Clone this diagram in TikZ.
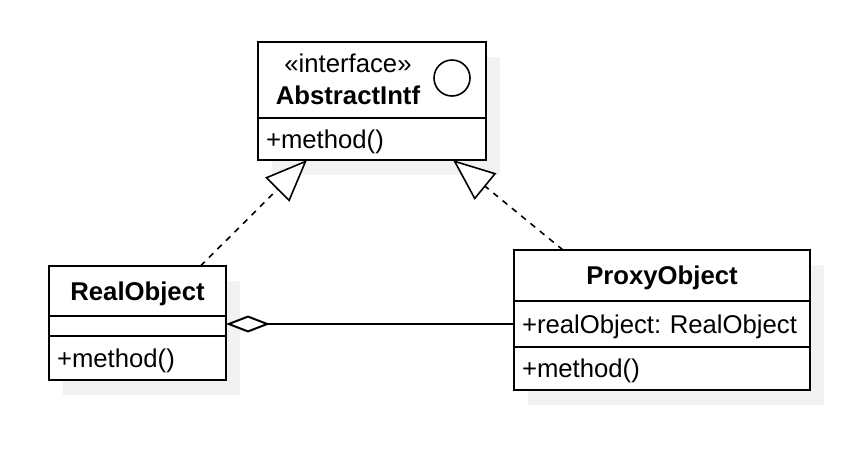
\documentclass[tikz,border=0pt]{standalone}
\usepackage{fontspec}
\setmainfont{Liberation Sans}
\usetikzlibrary{arrows.meta,shadows}

\begin{document}
\frenchspacing
\begin{tikzpicture}[x=1pt, y=-1pt, line width=2pt, font=\fontsize{25.7pt}{32pt}\selectfont,
  umlbox/.style={draw, fill=white, inner sep=0pt, outer sep=0pt, anchor=north west, text depth=0pt,
    general shadow={fill=black!5, draw=none, shadow xshift=14pt, shadow yshift=-15pt}},
  member/.style={umlbox, align=left, inner xsep=8pt, text width=#1},
  realize/.style={dash pattern=on 6pt off 6pt, line width=1.6pt, -{Triangle[open, fill=white, length=42pt, width=34pt]}},
  aggregate/.style={-{Diamond[open, fill=white, length=44pt, width=17pt]}}]
  \useasboundingbox (0,0) rectangle (860,448);
  % interface
  \node[umlbox, minimum width=228pt, minimum height=76pt] (abs) at (258,42) {};
  \node[align=center, inner sep=0pt] (absname) at (348,79) {«interface»\\\textbf{AbstractIntf}};
  \node[draw, circle, minimum size=36pt, inner sep=0pt, line width=1.6pt] (absicon) at (452,78) {};
  \node[member=212pt, minimum height=42pt] (absops) at (abs.south west) {+method()};
  % real subject
  \node[umlbox, minimum width=177pt, minimum height=50pt] (real) at (49,266) {\textbf{RealObject}};
  \node[member=161pt, minimum height=20pt] (realattr) at (real.south west) {};
  \node[member=161pt, minimum height=44pt] (realops) at (realattr.south west) {+method()};
  % proxy
  \node[umlbox, minimum width=296pt, minimum height=51pt] (proxy) at (514,250) {\textbf{ProxyObject}};
  \node[member=280pt, minimum height=46pt] (proxyattr) at (proxy.south west) {\mbox{+realObject: RealObject}};
  \node[member=280pt, minimum height=43pt] (proxyops) at (proxyattr.south west) {+method()};
  % relations
  \draw[realize] ([xshift=63pt]real.north) -- ([xshift=-65pt]absops.south);
  \draw[realize] ([xshift=-99pt]proxy.north) -- ([xshift=81pt]absops.south);
  \draw[aggregate] (proxyattr.west) -- (realattr.east |- proxyattr.west);
\end{tikzpicture}
\end{document}
